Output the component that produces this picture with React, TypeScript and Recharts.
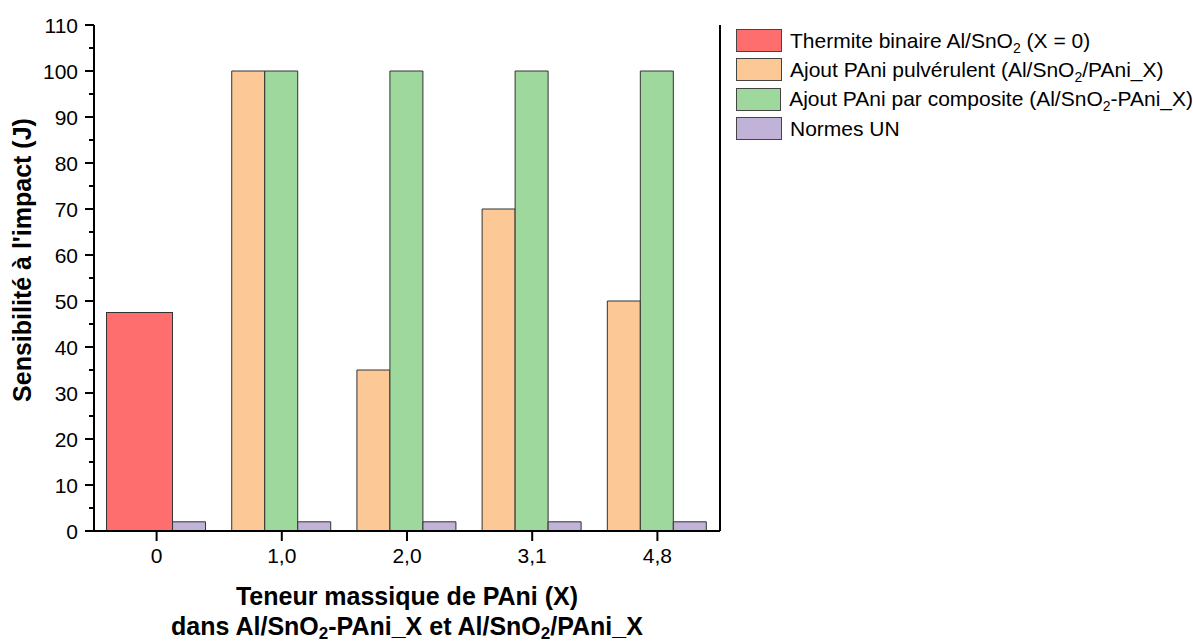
import React from 'react';
import { BarChart, Bar, XAxis, YAxis, Legend } from 'recharts';

const categories = ['0', '1,0', '2,0', '3,1', '4,8'];
const thermite = [47.5, null, null, null, null];
const pulverulent = [null, 100, 35, 70, 50];
const composite = [null, 100, 100, 100, 100];
const normesUN = [2, 2, 2, 2, 2];
const yTicks = [0, 5, 10, 15, 20, 25, 30, 35, 40, 45, 50, 55, 60, 65, 70, 75, 80, 85, 90, 95, 100, 105, 110];

const FONT = '"Liberation Sans", Arial, sans-serif';

const data = categories.map((label, i) => ({
  label,
  thermite: thermite[i],
  pulverulent: pulverulent[i],
  composite: composite[i],
  normes: normesUN[i],
}));

const sub = (t: string) => <sub style={{ fontSize: 14, verticalAlign: -5, lineHeight: 0 }}>{t}</sub>;

const legendItems = [
  { color: '#FF6E6E', label: <>Thermite binaire Al/SnO{sub('2')} (X = 0)</> },
  { color: '#FCC896', label: <>Ajout PAni pulvérulent (Al/SnO{sub('2')}/PAni_X)</> },
  { color: '#9FD89C', label: <>Ajout PAni par composite (Al/SnO{sub('2')}-PAni_X)</> },
  { color: '#C1B2D8', label: <>Normes UN</> },
];

// red bar spans the two first slots of the group
const WideBar = (props: any) => {
  const { x, y, width, height, fill } = props;
  if (!height || height <= 0) return null;
  return <rect x={x} y={y} width={width * 2} height={height} fill={fill} stroke="#333" strokeWidth={1} />;
};

const YTick = (props: any) => {
  const { x, y, payload } = props;
  const major = payload.value % 10 === 0;
  return (
    <g>
      <line x1={x} x2={x - (major ? 9 : 5)} y1={y} y2={y} stroke="#000" strokeWidth={2} />
      {major && (
        <text x={x - 16} y={y} dy="0.36em" textAnchor="end" fontSize={21} fill="#000" fontFamily={FONT}>
          {payload.value}
        </text>
      )}
    </g>
  );
};

const XTitle = (props: any) => {
  const vb = props.viewBox;
  const cx = vb.x + vb.width / 2;
  return (
    <text textAnchor="middle" fontSize={25} fontWeight="bold" fontFamily={FONT} fill="#000">
      <tspan x={cx} y={605}>Teneur massique de PAni (X)</tspan>
      <tspan x={cx} y={635}>dans Al/SnO</tspan>
      <tspan fontSize={17} dy={4}>2</tspan>
      <tspan dy={-4}>-PAni_X et Al/SnO</tspan>
      <tspan fontSize={17} dy={4}>2</tspan>
      <tspan dy={-4}>/PAni_X</tspan>
    </text>
  );
};

const YTitle = () => (
  <text
    x={22}
    y={260}
    transform="rotate(-90, 22, 260)"
    textAnchor="middle"
    dominantBaseline="central"
    fontSize={25}
    fontWeight="bold"
    fontFamily={FONT}
    fill="#000"
  >
    Sensibilité à l'impact (J)
  </text>
);

const LegendBox = () => (
  <div style={{ fontFamily: FONT, fontSize: 21, color: '#000' }}>
    {legendItems.map((it, i) => (
      <div key={i} style={{ display: 'flex', alignItems: 'center', height: 29.3, whiteSpace: 'nowrap' }}>
        <span
          style={{
            display: 'inline-block',
            width: 44,
            height: 21,
            background: it.color,
            border: '1px solid #444',
            marginRight: 8,
          }}
        />
        <span>{it.label}</span>
      </div>
    ))}
  </div>
);

export default function App() {
  return (
    <div style={{ position: 'absolute', left: 0, top: 0, width: 1193, height: 643, background: '#fff' }}>
      <BarChart
        width={1193}
        height={643}
        data={data}
        margin={{ top: 25, right: 472, bottom: 0, left: 0 }}
        barCategoryGap="10%"
        barGap={0}
      >
        <XAxis
          dataKey="label"
          height={112}
          tickSize={10}
          tickMargin={7}
          tickLine={{ stroke: '#000', strokeWidth: 2 }}
          axisLine={{ stroke: '#000', strokeWidth: 2 }}
          tick={{ fill: '#000', fontSize: 21, fontFamily: FONT }}
          label={<XTitle />}
        />
        <XAxis xAxisId="top" dataKey="label" orientation="top" height={0} tick={false} tickLine={false} axisLine={{ stroke: '#000', strokeWidth: 2 }} />
        <YAxis
          width={94}
          type="number"
          domain={[0, 110]}
          ticks={yTicks}
          interval={0}
          tickSize={0}
          tickMargin={0}
          tickLine={false}
          axisLine={{ stroke: '#000', strokeWidth: 2 }}
          tick={<YTick />}
          label={<YTitle />}
        />
        <YAxis yAxisId="right" orientation="right" width={1} type="number" domain={[0, 110]} tick={false} tickLine={false} axisLine={{ stroke: '#000', strokeWidth: 2 }} />
        <Legend
          layout="vertical"
          align="center"
          verticalAlign="middle"
          wrapperStyle={{ left: 736, top: 26, width: 457 }}
          content={<LegendBox />}
        />
        <Bar dataKey="thermite" stackId="a" fill="#FF6E6E" shape={<WideBar />} isAnimationActive={false} />
        <Bar dataKey="pulverulent" stackId="a" fill="#FCC896" stroke="#333" strokeWidth={1} isAnimationActive={false} />
        <Bar dataKey="composite" yAxisId="right" stackId="b" fill="#9FD89C" stroke="#333" strokeWidth={1} isAnimationActive={false} />
        <Bar dataKey="normes" stackId="c" fill="#C1B2D8" stroke="#333" strokeWidth={1} isAnimationActive={false} />
      </BarChart>
    </div>
  );
}
